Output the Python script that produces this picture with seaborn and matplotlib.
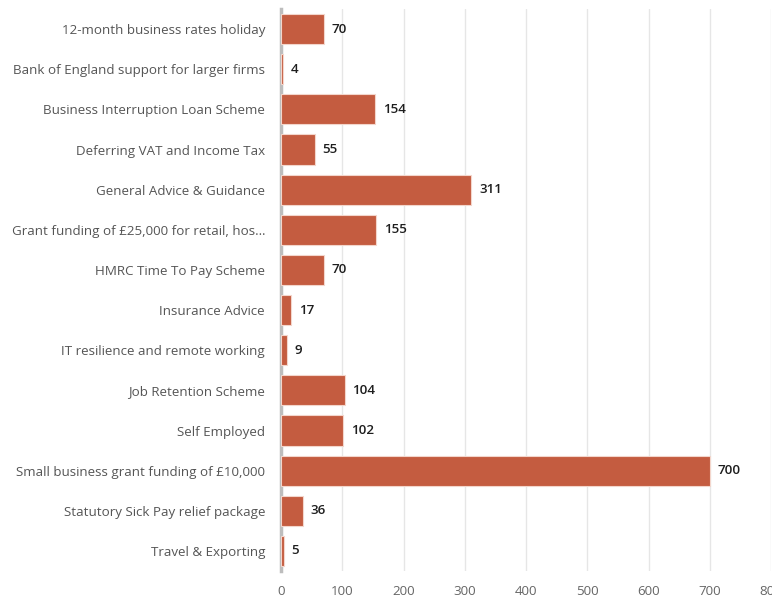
import matplotlib
matplotlib.use("Agg")
import matplotlib.pyplot as plt
import seaborn as sns
import pandas as pd

categories = [
    "12-month business rates holiday",
    "Bank of England support for larger firms",
    "Business Interruption Loan Scheme",
    "Deferring VAT and Income Tax",
    "General Advice & Guidance",
    "Grant funding of £25,000 for retail, hos…",
    "HMRC Time To Pay Scheme",
    "Insurance Advice",
    "IT resilience and remote working",
    "Job Retention Scheme",
    "Self Employed",
    "Small business grant funding of £10,000",
    "Statutory Sick Pay relief package",
    "Travel & Exporting",
]
counts = [70, 4, 154, 55, 311, 155, 70, 17, 9, 104, 102, 700, 36, 5]
x_ticks = [0, 100, 200, 300, 400, 500, 600, 700, 800]

df = pd.DataFrame({"category": categories, "count": counts})

sns.set_theme(style="white")
plt.rcParams["font.family"] = ["Open Sans", "DejaVu Sans"]

fig = plt.figure(figsize=(7.72, 5.97), dpi=100)
ax = fig.add_axes([281 / 772, 1 - 571 / 597, 490 / 772, 562 / 597])

sns.barplot(data=df, y="category", x="count", orient="h", color="#C45C40",
            saturation=1, width=0.75, edgecolor="#F3D6CC", linewidth=0.8,
            ax=ax, zorder=3)

for i, v in enumerate(counts):
    ax.annotate(f"{v}", xy=(v, i), xytext=(5.5, 0), textcoords="offset points",
                va="center", ha="left", fontsize=9.6, fontweight="semibold",
                color="#1E1E1E")

ax.set_xlim(0, 800)
ax.set_ylim(len(categories) - 0.5, -0.5)
ax.set_xticks(x_ticks)
ax.set_xticklabels([str(t) for t in x_ticks])
ax.xaxis.grid(True, color="#E6E6E6", linewidth=1, zorder=0)
ax.set_xlabel("")
ax.set_ylabel("")
for s in ["top", "right", "bottom"]:
    ax.spines[s].set_visible(False)
ax.spines["left"].set_color("#BDBDBD")
ax.spines["left"].set_linewidth(2.5)
ax.tick_params(axis="y", length=0, pad=11.5, labelsize=9.6, labelcolor="#555555")
ax.tick_params(axis="x", length=0, pad=10, labelsize=9.6, labelcolor="#666666")

fig.savefig("out.png", dpi=100)
